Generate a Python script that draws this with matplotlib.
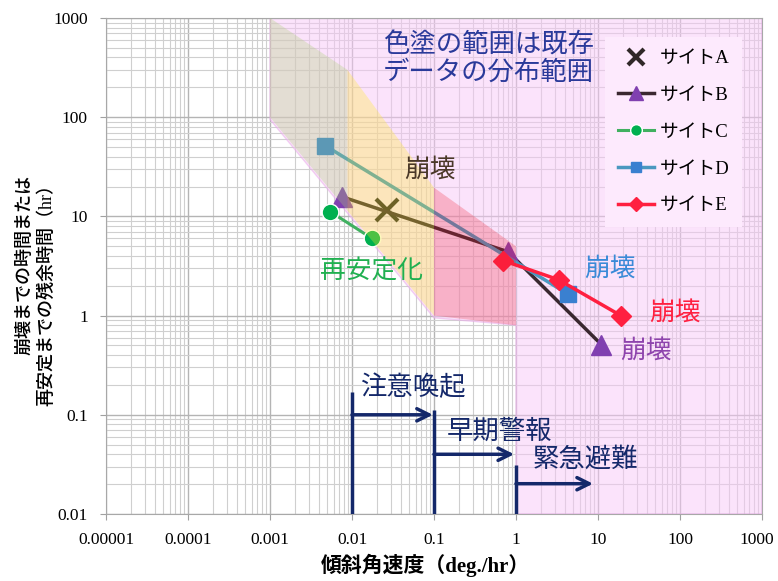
import numpy as np
import matplotlib.pyplot as plt
import matplotlib.transforms as mtransforms
from matplotlib.ticker import FixedLocator, NullFormatter

plt.rcParams['font.family'] = ['Liberation Serif', 'Noto Sans CJK JP']

# measured sites: tilt rate (deg./hr) vs remaining time (hr)
site_a_x = [0.027]
site_a_y = [11.7]
site_b_x = [0.0075, 0.8, 11.0]
site_b_y = [15.8, 4.4, 0.51]
site_c_x = [0.0054, 0.0175]
site_c_y = [11.2, 6.0]
site_d_x = [0.0047, 4.3]
site_d_y = [51.7, 1.65]
site_e_x = [0.7, 3.3, 19.0]
site_e_y = [3.58, 2.3, 1.0]
site_names = ['サイトA', 'サイトB', 'サイトC', 'サイトD', 'サイトE']

# existing data ranges (shaded)
range_all_x = [0.001, 1000, 1000, 1, 1, 0.1, 0.001]
range_all_y = [1000, 1000, 0.01, 0.01, 0.8, 0.95, 95]
range_gray_x = [0.001, 0.0088, 0.0088, 0.001]
range_gray_y = [1000, 300, 11.4, 100]
range_orange_x = [0.0088, 0.1, 0.1, 0.0088]
range_orange_y = [300, 19.5, 1.0, 11.4]
range_red_x = [0.1, 1, 1, 0.1]
range_red_y = [19.5, 5.0, 0.8, 1.0]

x_ticks = [1e-5, 1e-4, 1e-3, 1e-2, 1e-1, 1, 10, 100, 1000]
x_labels = ['0.00001', '0.0001', '0.001', '0.01', '0.1', '1', '10', '100', '1000']
y_ticks = [0.01, 0.1, 1, 10, 100, 1000]
y_labels = ['0.01', '0.1', '1', '10', '100', '1000']

# alert levels
alert_x0 = [0.01, 0.1, 1.0]
alert_top = [0.17, 0.113, 0.031]
alert_arrow_y = [0.1, 0.04, 0.0202]
alert_x1 = [0.097, 0.95, 8.7]
alert_text_x = [0.0126, 0.144, 1.61]
alert_text_y = [0.188, 0.068, 0.0353]
alert_text = ['注意喚起', '早期警報', '緊急避難']

cjk = ['Liberation Serif', 'Noto Sans CJK JP']

fig = plt.figure(figsize=(7.78, 5.81), dpi=100)
ax = fig.add_axes([106 / 778, 67 / 581, 656 / 778, 496 / 581])
ax.set_xscale('log')
ax.set_yscale('log')
ax.set_xlim(1e-5, 1e3)
ax.set_ylim(0.01, 1000)

ax.set_axisbelow(True)
ax.grid(which='major', color='#b4b4b4', lw=1.0)
ax.grid(which='minor', color='#cfcfcf', lw=0.8)
ax.xaxis.set_minor_locator(FixedLocator([m * 10.0 ** e for e in range(-5, 3) for m in range(2, 10)]))
ax.yaxis.set_minor_locator(FixedLocator([m * 10.0 ** e for e in range(-2, 3) for m in range(2, 10)]))
ax.xaxis.set_minor_formatter(NullFormatter())
ax.yaxis.set_minor_formatter(NullFormatter())
ax.set_xticks(x_ticks)
ax.set_xticklabels(x_labels)
ax.set_yticks(y_ticks)
ax.set_yticklabels(y_labels)
ax.tick_params(which='major', length=4, color='#a0a0a0', pad=9, labelsize=12.5)
ax.tick_params(which='minor', length=0)
for s in ax.spines.values():
    s.set_color('#a8a8a8')
# pull the last x label in a little so it stays on the canvas
last = ax.get_xticklabels()[-1]
last.set_transform(last.get_transform() + mtransforms.ScaledTranslation(-4 / 72, 0, fig.dpi_scale_trans))

ax.fill(range_all_x, range_all_y, facecolor='#f8c8f8', alpha=0.5,
        edgecolor='#e8a8e8', lw=1, zorder=1)

ax.plot(site_a_x, site_a_y, ls='none', marker='x', ms=16, mew=3,
        color='#302828', label=site_names[0], zorder=3)
ax.plot(site_b_x, site_b_y, '-', color='#3a2830', lw=2.5, marker='^', ms=14,
        mfc='#8040b0', mec='#8040b0', label=site_names[1], zorder=3)
ax.plot(site_c_x, site_c_y, '-', color='#40b060', lw=2.2, marker='o', ms=12,
        mfc='#00b050', mec='white', mew=1, label=site_names[2], zorder=3)
ax.plot(site_d_x, site_d_y, '-', color='#4a98c0', lw=2.5, marker='s', ms=11,
        mfc='#3a80d0', mec='#3a80d0', label=site_names[3], zorder=3)
ax.plot(site_e_x, site_e_y, '-', color='#ff2040', lw=2.5, marker='D', ms=10,
        mfc='#ff2040', mec='#ff2040', label=site_names[4], zorder=3)

ax.fill(range_gray_x, range_gray_y, facecolor='#acd077', alpha=0.3, lw=0, zorder=4)
ax.fill(range_orange_x, range_orange_y, facecolor='#ffeb27', alpha=0.3, lw=0, zorder=4)
ax.fill(range_red_x, range_red_y, facecolor='#f01c30', alpha=0.25, lw=0, zorder=4)

ax.text(0.089, 29.6, '崩壊', color='#4a3828', fontsize=18.5, family=cjk,
        ha='center', va='center', zorder=5)
ax.text(0.0175, 2.78, '再安定化', color='#20b050', fontsize=18.5, family=cjk,
        ha='center', va='center', zorder=5)
ax.text(14, 3.0, '崩壊', color='#3a8ad8', fontsize=18.5, family=cjk,
        ha='center', va='center', zorder=5)
ax.text(87, 1.08, '崩壊', color='#ff2040', fontsize=18.5, family=cjk,
        ha='center', va='center', zorder=5)
ax.text(38, 0.44, '崩壊', color='#8e44ad', fontsize=18.5, family=cjk,
        ha='center', va='center', zorder=5)
ax.text(0.0239, 390, '色塗の範囲は既存\nデータの分布範囲', color='#2a3a9a',
        fontsize=19, family=cjk, ha='left', va='center', linespacing=1.15, zorder=5)

navy = '#14286a'
for i in range(len(alert_text)):
    ax.plot([alert_x0[i], alert_x0[i]], [0.01, alert_top[i]], color=navy, lw=2.5,
            zorder=5, solid_capstyle='butt')
    ax.annotate('', xy=(alert_x1[i], alert_arrow_y[i]), xytext=(alert_x0[i], alert_arrow_y[i]),
                arrowprops=dict(arrowstyle='->', color=navy, lw=2.5, mutation_scale=22,
                                shrinkA=0, shrinkB=0), zorder=5)
    ax.text(alert_text_x[i], alert_text_y[i], alert_text[i], color=navy, fontsize=19,
            family=cjk, ha='left', va='center', zorder=5)

leg = ax.legend(loc='upper right', bbox_to_anchor=(0.97, 0.962), borderaxespad=0,
                prop={'family': cjk, 'size': 13.5}, markerscale=0.7, labelspacing=1.05,
                handlelength=1.9, handletextpad=0.3, borderpad=0.7,
                fancybox=False, facecolor='#fdeafd', edgecolor='none', framealpha=1)
leg.set_zorder(6)

fig.text(0.547, 0.027, '傾斜角速度（deg./hr）', family=cjk, fontsize=15,
         fontweight='bold', ha='center', va='center')
fig.text(0.046, 0.5, '崩壊までの時間または\n再安定までの残余時間（hr）', family=cjk,
         fontsize=13, fontweight='medium', rotation=90, ha='center', va='center',
         multialignment='right', linespacing=1.3)

fig.savefig('out.png', dpi=100)
